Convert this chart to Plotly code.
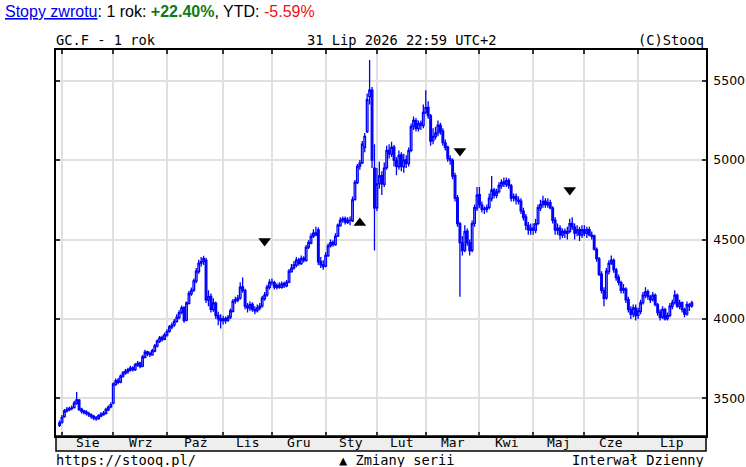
import plotly.graph_objects as go
import pandas as pd

# dni sesyjne 31.07.2025 - 31.07.2026 (bez 25.12 i 1.01)
dates = [d.strftime('%Y-%m-%d') for d in pd.bdate_range('2025-07-31', '2026-07-31')
         if d.strftime('%m-%d') not in ('12-25', '01-01')]

opens = [
    # Sie
    3330, 3350, 3385, 3420, 3428, 3436, 3442, 3468, 3488, 3432, 3420, 3412, 3404, 3396, 3386, 3376, 3372, 3388, 3398, 3406, 3428, 3446,
    # Wrz
    3470, 3588, 3612, 3602, 3640, 3658, 3668, 3678, 3692, 3680, 3708, 3722, 3702, 3758, 3792, 3782, 3774, 3798, 3828, 3858, 3884, 3872,
    # Paź
    3898, 3922, 3948, 3962, 3984, 4008, 4042, 4072, 3992, 4098, 4158, 4182, 4238, 4298, 4352, 4362, 4370, 4118, 4142, 4058, 4098, 4022, 4002,
    # Lis
    3988, 4002, 3992, 4012, 4048, 4112, 4118, 4132, 4202, 4178, 4082, 4068, 4092, 4058, 4052, 4068, 4082, 4128, 4152, 4198,
    # Gru
    4232, 4228, 4198, 4212, 4198, 4222, 4208, 4232, 4298, 4322, 4338, 4372, 4348, 4382, 4368, 4452, 4478, 4522, 4542, 4560, 4362, 4342,
    # Sty
    4332, 4398, 4462, 4482, 4468, 4522, 4588, 4622, 4632, 4608, 4622, 4618, 4752, 4858, 4962, 4982, 5080, 5180, 5400, 5440, 4950,
    # Lut
    4700, 4852, 4902, 4848, 4952, 5062, 5038, 5082, 4998, 4958, 5032, 4958, 5002, 4978, 5062, 5212, 5248, 5198, 5232, 5218,
    # Mar
    5302, 5332, 5278, 5122, 5148, 5172, 5218, 5182, 5108, 5082, 5008, 4998, 4902, 4762, 4598, 4478, 4432, 4552, 4478, 4432, 4602, 4698,
    # Kwi
    4782, 4718, 4692, 4688, 4702, 4758, 4812, 4778, 4802, 4838, 4862, 4848, 4872, 4838, 4762, 4772, 4748, 4742, 4678, 4642, 4588, 4558,
    # Maj
    4572, 4558, 4602, 4698, 4722, 4742, 4718, 4732, 4698, 4622, 4558, 4572, 4528, 4552, 4538, 4552, 4602, 4578, 4542, 4562, 4528,
    # Cze
    4562, 4538, 4562, 4528, 4522, 4438, 4378, 4282, 4178, 4132, 4298, 4352, 4368, 4308, 4262, 4228, 4182, 4188, 4122, 4058, 4032, 4068,
    # Lip
    4022, 4048, 4102, 4148, 4172, 4138, 4122, 4148, 4088, 4042, 4012, 4058, 4002, 4022, 4078, 4102, 4148, 4078, 4102, 4058, 4032, 4088, 4082,
]

highs = [
    3360, 3395, 3432, 3445, 3448, 3455, 3485, 3540, 3495, 3440, 3428, 3425, 3415, 3405, 3395, 3388, 3400, 3412, 3420, 3440, 3455, 3475,
    3600, 3625, 3628, 3650, 3672, 3684, 3692, 3705, 3702, 3722, 3735, 3730, 3772, 3805, 3800, 3795, 3812, 3842, 3872, 3892, 3895, 3912,
    3935, 3962, 3978, 4000, 4030, 4055, 4085, 4080, 4110, 4175, 4198, 4255, 4320, 4372, 4390, 4398, 4385, 4180, 4160, 4130, 4110, 4045, 4030,
    4020, 4015, 4025, 4065, 4125, 4140, 4150, 4230, 4260, 4190, 4100, 4110, 4105, 4080, 4090, 4100, 4145, 4170, 4215, 4250,
    4255, 4240, 4225, 4230, 4235, 4235, 4245, 4315, 4345, 4365, 4390, 4385, 4400, 4395, 4465, 4495, 4540, 4565, 4580, 4575, 4390, 4370,
    4420, 4475, 4500, 4495, 4540, 4600, 4640, 4645, 4645, 4640, 4645, 4770, 4875, 4975, 5000, 5120, 5170, 5420, 5630, 5460, 5100,
    4950, 4990, 4930, 4985, 5090, 5100, 5115, 5095, 5020, 5060, 5050, 5040, 5030, 5080, 5230, 5275, 5265, 5250, 5250, 5350,
    5440, 5370, 5290, 5200, 5210, 5250, 5235, 5200, 5130, 5090, 5030, 5010, 4920, 4780, 4610, 4520, 4590, 4570, 4500, 4620, 4720, 4830,
    4830, 4740, 4710, 4720, 4790, 4900, 4825, 4820, 4860, 4880, 4890, 4890, 4885, 4850, 4790, 4790, 4770, 4760, 4700, 4660, 4610, 4600,
    4600, 4630, 4720, 4750, 4775, 4760, 4760, 4750, 4710, 4640, 4600, 4590, 4570, 4570, 4580, 4630, 4640, 4600, 4590, 4580, 4590,
    4590, 4580, 4580, 4550, 4530, 4450, 4390, 4300, 4200, 4320, 4370, 4400, 4380, 4320, 4280, 4240, 4220, 4200, 4140, 4080, 4090, 4090,
    4070, 4120, 4170, 4200, 4185, 4150, 4170, 4160, 4100, 4060, 4080, 4070, 4040, 4100, 4120, 4180, 4160, 4120, 4110, 4070, 4110, 4100, 4115,
]

lows = [
    3320, 3340, 3378, 3410, 3418, 3425, 3435, 3460, 3420, 3405, 3398, 3392, 3382, 3372, 3362, 3358, 3365, 3380, 3390, 3398, 3420, 3438,
    3462, 3578, 3588, 3595, 3630, 3648, 3655, 3668, 3668, 3672, 3698, 3690, 3695, 3750, 3765, 3760, 3768, 3790, 3820, 3848, 3858, 3865,
    3888, 3912, 3935, 3950, 3975, 3998, 4030, 3975, 3985, 4090, 4145, 4170, 4225, 4285, 4330, 4340, 4100, 4080, 4040, 4045, 4000, 3960, 3940,
    3965, 3970, 3980, 4000, 4040, 4095, 4105, 4120, 4165, 4060, 4040, 4050, 4045, 4030, 4040, 4055, 4070, 4115, 4140, 4185,
    4210, 4185, 4185, 4190, 4190, 4195, 4200, 4225, 4290, 4310, 4325, 4335, 4340, 4355, 4360, 4440, 4470, 4510, 4520, 4340, 4320, 4310,
    4325, 4390, 4450, 4455, 4460, 4515, 4580, 4605, 4595, 4598, 4590, 4610, 4745, 4850, 4940, 4975, 5050, 5170, 5350, 4950, 4430,
    4680, 4820, 4780, 4830, 4940, 5010, 5020, 4960, 4905, 4940, 4930, 4920, 4950, 4960, 5050, 5190, 5180, 5180, 5190, 5200,
    5290, 5260, 5090, 5100, 5130, 5150, 5160, 5090, 5060, 4990, 4970, 4880, 4740, 4580, 4140, 4400, 4420, 4460, 4400, 4420, 4580, 4680,
    4700, 4670, 4660, 4670, 4690, 4740, 4760, 4760, 4790, 4820, 4830, 4830, 4820, 4740, 4740, 4720, 4720, 4660, 4620, 4560, 4530, 4530,
    4530, 4540, 4590, 4680, 4700, 4700, 4700, 4690, 4600, 4530, 4530, 4500, 4510, 4510, 4500, 4540, 4560, 4500, 4520, 4490, 4510,
    4520, 4510, 4520, 4500, 4430, 4360, 4270, 4160, 4080, 4120, 4280, 4340, 4290, 4240, 4210, 4160, 4160, 4100, 4040, 4000, 4010, 3990,
    4000, 4030, 4090, 4130, 4120, 4100, 4110, 4080, 4020, 3990, 4000, 3990, 3990, 4010, 4060, 4090, 4070, 4060, 4040, 4010, 4020, 4050, 4070,
]

closes = [
    3345, 3380, 3420, 3430, 3435, 3440, 3470, 3490, 3430, 3420, 3410, 3405, 3395, 3385, 3375, 3370, 3390, 3400, 3405, 3430, 3445, 3460,
    3590, 3610, 3600, 3640, 3660, 3670, 3680, 3690, 3680, 3710, 3720, 3700, 3760, 3790, 3780, 3775, 3800, 3830, 3860, 3880, 3870, 3900,
    3920, 3950, 3960, 3985, 4010, 4040, 4070, 3990, 4100, 4160, 4180, 4240, 4300, 4350, 4360, 4380, 4120, 4140, 4060, 4100, 4020, 4000, 3990,
    4000, 3990, 4010, 4050, 4110, 4120, 4130, 4200, 4180, 4080, 4070, 4090, 4060, 4050, 4070, 4080, 4130, 4150, 4200, 4230,
    4230, 4200, 4210, 4200, 4220, 4210, 4230, 4300, 4320, 4340, 4370, 4350, 4380, 4370, 4450, 4480, 4520, 4540, 4530, 4360, 4340, 4330,
    4400, 4460, 4480, 4470, 4520, 4590, 4620, 4630, 4610, 4620, 4620, 4750, 4860, 4960, 4980, 5100, 5150, 5380, 5440, 5000, 4700,
    4850, 4900, 4850, 4950, 5060, 5040, 5080, 5000, 4960, 5030, 4960, 5000, 4980, 5060, 5210, 5250, 5200, 5230, 5220, 5300,
    5330, 5280, 5120, 5150, 5170, 5220, 5180, 5110, 5080, 5010, 5000, 4900, 4760, 4600, 4480, 4430, 4550, 4480, 4430, 4600, 4700, 4780,
    4720, 4690, 4690, 4700, 4760, 4810, 4780, 4800, 4840, 4860, 4850, 4870, 4840, 4760, 4770, 4750, 4740, 4680, 4640, 4590, 4560, 4570,
    4560, 4600, 4700, 4720, 4740, 4720, 4730, 4700, 4620, 4560, 4570, 4530, 4550, 4540, 4550, 4600, 4580, 4540, 4560, 4530, 4560,
    4540, 4560, 4530, 4520, 4440, 4380, 4280, 4180, 4130, 4300, 4350, 4370, 4310, 4260, 4230, 4180, 4190, 4120, 4060, 4030, 4070, 4020,
    4050, 4100, 4150, 4170, 4140, 4120, 4150, 4090, 4040, 4010, 4060, 4000, 4020, 4080, 4100, 4150, 4080, 4100, 4060, 4030, 4090, 4080, 4100,
]

month_names = ['Sie', 'Wrz', 'Paź', 'Lis', 'Gru', 'Sty', 'Lut', 'Mar', 'Kwi', 'Maj', 'Cze', 'Lip']
y_ticks = [3500, 4000, 4500, 5000, 5500]

# zmiany serii (kontraktu)
change_dates = ['2025-11-26', '2026-01-22', '2026-03-20', '2026-05-22']
change_prices = [4491, 4604, 5057, 4812]
change_symbols = ['triangle-down', 'triangle-up', 'triangle-down', 'triangle-down']

BLUE = '#0000ff'
MONO = 'DejaVu Sans Mono'
x_range = [-1.46, 264.8]

# początki miesięcy -> linie siatki
month_starts = [i for i in range(1, len(dates)) if dates[i][5:7] != dates[i - 1][5:7]]

fig = go.Figure()
fig.add_trace(go.Candlestick(
    x=dates, open=opens, high=highs, low=lows, close=closes,
    increasing=dict(line=dict(color=BLUE, width=1.3), fillcolor='#ffffff'),
    decreasing=dict(line=dict(color=BLUE, width=1.3), fillcolor=BLUE),
    whiskerwidth=0,
    showlegend=False,
))
fig.add_trace(go.Scatter(
    x=change_dates, y=change_prices, mode='markers',
    marker=dict(symbol=change_symbols, size=11, color='#000000'),
    showlegend=False, hoverinfo='skip',
))

annotations = []
# nazwy miesięcy w pasku pod wykresem
edges = month_starts + [x_range[1]]
for k, name in enumerate(month_names):
    annotations.append(dict(
        x=(edges[k] + edges[k + 1]) / 2, y=-0.0174, xref='x', yref='paper',
        text=name, showarrow=False, xanchor='center', yanchor='middle',
        font=dict(family=MONO, size=13, color='#000000'),
    ))

header = ('<span style="color:#0000ee"><u>Stopy zwrotu</u></span>: 1 rok: '
          '<b><span style="color:#137a13">+22.40%</span></b>, YTD: '
          '<span style="color:#ee1111">-5.59%</span>')
texts = [
    (header, -0.0815, 1.101, 'left', 'Liberation Sans', 16),
    ('GC.F - 1 rok', -0.003, 1.026, 'left', MONO, 13.7),
    ('31 Lip 2026 22:59 UTC+2', 0.383, 1.026, 'left', MONO, 13.7),
    ('(C)Stooq', 1.0, 1.026, 'right', MONO, 13.7),
    ('https://stooq.pl/', -0.003, -0.062, 'left', MONO, 13.7),
    ('▲ Zmiany serii', 0.433, -0.062, 'left', MONO, 13.7),
    ('Interwał Dzienny', 1.0, -0.062, 'right', MONO, 13.7),
]
for txt, x, y, anchor, fam, size in texts:
    annotations.append(dict(
        x=x, y=y, xref='paper', yref='paper', text=txt, showarrow=False,
        xanchor=anchor, yanchor='middle',
        font=dict(family=fam, size=size, color='#000000'),
    ))

fig.update_layout(
    width=746, height=467,
    margin=dict(l=56, r=40, t=50, b=31, autoexpand=False),
    paper_bgcolor='#ffffff',
    plot_bgcolor='#ffffff',
    showlegend=False,
    boxgap=0.05,
    annotations=annotations,
    shapes=[dict(
        type='rect', xref='paper', yref='paper', x0=0, x1=1, y0=-0.039, y1=0,
        fillcolor='#eeeeee', line=dict(color='#000000', width=1.5), layer='below',
    )],
    xaxis=dict(
        type='category', range=x_range,
        rangeslider=dict(visible=False),
        tickmode='array', tickvals=[dates[i] for i in month_starts],
        showticklabels=False,
        ticks='inside', ticklen=4, tickwidth=1.5, tickcolor='#333333',
        showline=True, linecolor='#000000', linewidth=1.5, mirror='ticks',
        showgrid=True, gridcolor='#e0e0e0', gridwidth=2,
        zeroline=False, automargin=False,
    ),
    yaxis=dict(
        side='right', range=[3262.6, 5693.3],
        tickmode='array', tickvals=y_ticks,
        ticks='inside', ticklen=4, tickwidth=1.5, tickcolor='#333333',
        showline=True, linecolor='#000000', linewidth=1.5, mirror='ticks',
        showgrid=True, gridcolor='#e0e0e0', gridwidth=2,
        zeroline=False, automargin=False,
        ticklabelstandoff=3,
        tickfont=dict(family='DejaVu Sans', size=12.5, color='#000000'),
    ),
)

# bez marginesu strony, żeby wykres zaczynał się w rogu okna
fig.write_html("out.html", config={'displayModeBar': False},
               post_script="document.body.style.margin='0';")
